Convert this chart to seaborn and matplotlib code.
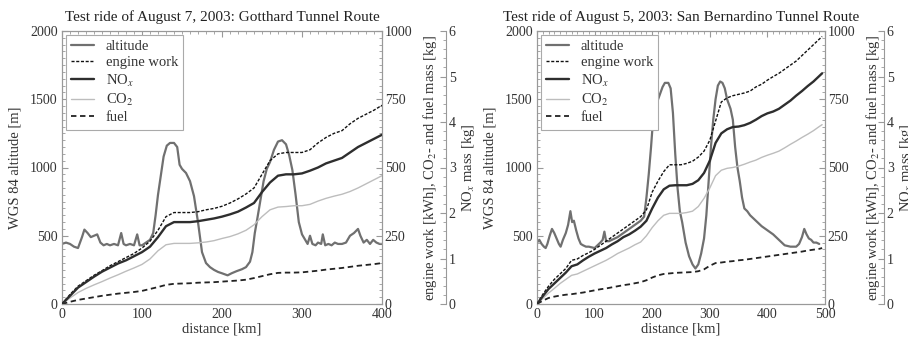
import numpy as np
import pandas as pd
import seaborn as sns
import matplotlib
matplotlib.use("Agg")
import matplotlib.pyplot as plt
from matplotlib.ticker import MultipleLocator

# ---------------- data: Gotthard (August 7, 2003) ----------------
g_alt_km = [0,5,10,15,20,25,28,32,36,40,44,48,52,56,60,65,70,74,77,80,85,90,94,97,100,105,110,114,117,120,123,127,131,135,140,144,147,150,155,160,165,170,175,180,185,190,195,200,207,212,218,225,230,235,238,241,244,248,252,256,260,265,270,275,280,284,288,292,296,300,304,307,310,313,317,320,324,326,329,333,337,341,345,350,355,360,365,370,373,377,381,385,389,393,397,400]
g_alt = [440,450,440,420,410,490,545,520,490,500,510,450,430,440,430,440,430,520,440,430,440,430,510,430,430,450,470,520,650,800,920,1080,1160,1180,1180,1150,1020,990,960,900,790,600,380,300,270,250,235,225,210,225,240,255,270,310,380,520,620,760,900,990,1040,1130,1190,1200,1170,1090,980,800,600,510,470,440,500,440,430,450,440,510,430,440,430,450,440,440,450,500,520,550,500,450,470,440,470,450,440,440]

g_km = list(range(0, 401, 10))
g_work = [0,35,65,85,105,122,140,155,170,185,205,230,270,320,335,335,335,338,345,350,358,370,385,403,425,475,525,550,555,555,555,565,590,610,625,635,660,680,695,710,728]
g_nox = [0,0.18,0.36,0.48,0.60,0.71,0.80,0.89,0.96,1.05,1.14,1.26,1.47,1.71,1.80,1.80,1.80,1.82,1.85,1.88,1.92,1.97,2.03,2.12,2.22,2.46,2.67,2.82,2.85,2.85,2.87,2.93,3.00,3.09,3.15,3.21,3.33,3.45,3.54,3.63,3.72]
g_co2 = [0,22,42,57,70,82,95,107,120,132,145,165,195,217,222,222,222,224,227,232,240,247,257,270,290,320,345,355,357,360,360,365,377,387,395,402,412,425,440,455,470]
g_fuel = [0,8,15,20,25,30,34,38,41,44,48,55,62,70,74,75,76,78,79,80,82,84,86,89,95,102,109,114,115,115,116,119,122,126,129,132,136,140,143,146,150]

# ---------------- data: San Bernardino (August 5, 2003) ----------------
b_alt_km = [0,4,8,12,15,18,22,26,30,34,38,41,45,50,54,58,61,64,68,72,76,80,85,90,95,100,105,110,114,117,120,125,130,140,150,160,170,180,186,190,194,198,202,206,212,218,222,228,232,236,240,244,248,252,258,264,270,275,280,285,290,294,298,302,306,310,314,318,322,326,330,336,340,344,348,352,356,360,365,370,380,390,400,410,415,420,425,430,440,450,455,460,464,468,472,476,480,485,490]
b_alt = [450,470,440,420,410,440,500,550,520,480,440,420,470,520,580,680,600,610,540,480,440,430,420,420,415,410,430,450,470,530,460,460,470,490,520,550,580,610,640,780,950,1150,1380,1450,1520,1590,1620,1620,1580,1400,1100,850,680,600,450,350,290,260,290,370,480,650,900,1150,1350,1500,1600,1630,1620,1580,1500,1430,1350,1150,1000,900,780,700,680,650,610,570,540,510,490,470,450,430,420,420,440,490,550,510,480,470,450,450,440]

b_km = list(range(0, 491, 10)) + [495]
b_work = [0,35,65,90,110,130,160,165,178,188,200,215,230,245,260,275,290,305,320,345,410,450,485,510,510,510,515,523,538,560,600,670,740,755,763,768,773,780,795,805,820,833,845,860,875,890,910,930,950,970,980]
b_nox = [0,0.17,0.33,0.45,0.57,0.69,0.83,0.87,0.96,1.04,1.11,1.17,1.23,1.31,1.38,1.47,1.53,1.61,1.70,1.83,2.10,2.34,2.52,2.60,2.61,2.61,2.61,2.64,2.72,2.88,3.15,3.54,3.75,3.84,3.89,3.90,3.93,3.98,4.05,4.13,4.19,4.23,4.29,4.38,4.47,4.58,4.68,4.79,4.89,5.01,5.07]
b_co2 = [0,20,40,57,75,90,105,110,120,130,140,150,160,172,185,195,205,217,227,250,280,305,325,332,332,332,335,340,357,387,425,470,490,497,500,505,512,520,527,537,545,552,560,572,585,597,610,622,635,650,657]
b_fuel = [0,12,22,27,31,34,36,39,42,46,50,54,57,61,65,69,72,76,80,87,97,105,110,112,114,115,116,117,120,127,140,150,152,155,157,160,162,165,168,171,174,177,180,183,186,189,192,196,199,202,205]

titles = ["Test ride of August 7, 2003: Gotthard Tunnel Route",
          "Test ride of August 5, 2003: San Bernardino Tunnel Route"]
xmax = [400, 500]

# ---------------- style ----------------
sns.set_style("white")
plt.rcParams["font.family"] = ["Liberation Serif", "DejaVu Serif"]
plt.rcParams["mathtext.fontset"] = "stix"
plt.rcParams["font.size"] = 10
TXT = "#333333"
SP = "#999999"

fig = plt.figure(figsize=(9.08, 3.43), dpi=100)
W, H = 908.0, 343.0
rects = [(62, 31, 320), (537, 31, 288)]
bottom_px = 304

panels = [
    (g_alt_km, g_alt, g_km, g_work, g_nox, g_co2, g_fuel),
    (b_alt_km, b_alt, b_km, b_work, b_nox, b_co2, b_fuel),
]
third_px = [446, 884]

for i, (ak, av, km, work, nox, co2, fuel) in enumerate(panels):
    lx, ty, wpx = rects[i]
    ax = fig.add_axes([lx / W, (H - bottom_px) / H, wpx / W, (bottom_px - ty) / H])
    ax2 = ax.twinx()
    ax3 = ax.twinx()

    sns.lineplot(x=ak, y=av, ax=ax, color="#707070", lw=1.6, label="altitude", legend=False)
    sns.lineplot(x=km, y=work, ax=ax2, color="#111111", lw=1.0, linestyle=(0, (2.2, 1.2)), label="engine work", legend=False)
    sns.lineplot(x=km, y=nox, ax=ax3, color="#2e2e2e", lw=1.7, label="NO$_x$", legend=False)
    sns.lineplot(x=km, y=co2, ax=ax2, color="#bdbdbd", lw=1.0, label="CO$_2$", legend=False)
    sns.lineplot(x=km, y=fuel, ax=ax2, color="#222222", lw=1.3, linestyle=(0, (3, 2)), label="fuel", legend=False)

    ax.set_xlim(0, xmax[i])
    ax.set_ylim(0, 2000)
    ax2.set_ylim(0, 1000)
    ax3.set_ylim(0, 6)
    ax.xaxis.set_major_locator(MultipleLocator(100))
    ax.xaxis.set_minor_locator(MultipleLocator(10))
    ax.yaxis.set_major_locator(MultipleLocator(500))
    ax.yaxis.set_minor_locator(MultipleLocator(50))
    ax2.yaxis.set_major_locator(MultipleLocator(250))
    ax2.yaxis.set_minor_locator(MultipleLocator(25))
    ax3.yaxis.set_major_locator(MultipleLocator(1))
    ax3.yaxis.set_minor_locator(MultipleLocator(0.2))

    for a in (ax, ax2, ax3):
        for s in a.spines.values():
            s.set_color(SP)
            s.set_linewidth(0.8)
    ax3.spines["right"].set_position(("axes", (third_px[i] - lx) / wpx))
    for s in ("top", "left", "bottom"):
        ax3.spines[s].set_visible(False)

    ax.tick_params(axis="both", which="both", direction="in", colors=SP, labelcolor=TXT,
                   top=True, labelsize=10, pad=3)
    ax.tick_params(which="major", length=4, width=0.8)
    ax.tick_params(which="minor", length=2, width=0.6)
    ax2.tick_params(axis="y", which="both", direction="in", colors=SP, labelcolor=TXT, labelsize=10, pad=2)
    ax2.tick_params(which="major", length=4, width=0.8)
    ax2.tick_params(which="minor", length=2, width=0.6)
    ax3.tick_params(axis="y", which="both", direction="in", colors=SP, labelcolor=TXT, labelsize=10, pad=2)
    ax3.tick_params(which="major", length=4, width=0.8)
    ax3.tick_params(which="minor", length=2, width=0.6)

    ax.set_xlabel("distance [km]", color=TXT, fontsize=10.5, labelpad=1)
    ax.set_ylabel("WGS 84 altitude [m]", color=TXT, fontsize=10.5, labelpad=6)
    ax2.set_ylabel("engine work [kWh], CO$_2$- and fuel mass [kg]", color=TXT, fontsize=10.5, labelpad=6)
    ax3.set_ylabel("NO$_x$ mass [kg]", color=TXT, fontsize=10.5, labelpad=3)
    ax.set_title(titles[i], fontsize=11, color="#222222", pad=7)

    handles = ax.get_lines() + ax2.get_lines() + ax3.get_lines()
    order = ["altitude", "engine work", "NO$_x$", "CO$_2$", "fuel"]
    hd = {h.get_label(): h for h in handles}
    leg = ax3.legend([hd[k] for k in order], order, loc="upper left", fontsize=10.5,
                     frameon=True, fancybox=False, edgecolor="#aaaaaa", framealpha=1,
                     handlelength=1.6, handletextpad=0.8, labelspacing=0.22,
                     borderpad=0.35, borderaxespad=0.25)
    leg.get_frame().set_linewidth(0.8)
    for t in leg.get_texts():
        t.set_color(TXT)

fig.savefig("out.png", dpi=100)
